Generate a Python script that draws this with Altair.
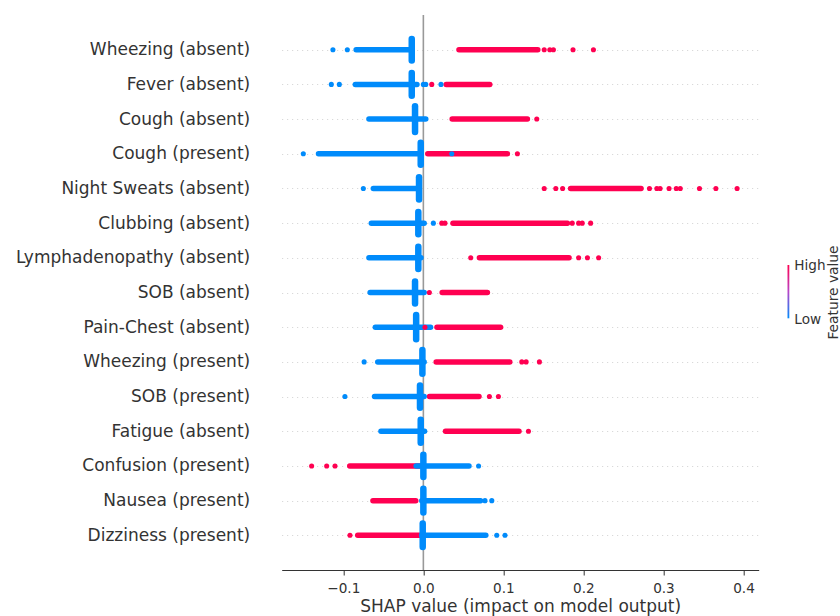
import altair as alt
import pandas as pd

# ---------------- data ----------------
features = [
    "Wheezing (absent)", "Fever (absent)", "Cough (absent)", "Cough (present)",
    "Night Sweats (absent)", "Clubbing (absent)", "Lymphadenopathy (absent)",
    "SOB (absent)", "Pain-Chest (absent)", "Wheezing (present)", "SOB (present)",
    "Fatigue (absent)", "Confusion (present)", "Nausea (present)", "Dizziness (present)",
]

# dense run of low-feature-value (blue) SHAP values per feature
blue_lo = [-0.084, -0.085, -0.068, -0.131, -0.0625, -0.065, -0.068, -0.0665, -0.060, -0.057, -0.061, -0.053, -0.009, -0.002, -0.002]
blue_hi = [-0.0145, -0.008, 0.003, -0.003, -0.0054, 0.001, -0.003, 0.001, 0.009, 0.001, 0.001, 0.0015, 0.057, 0.0715, 0.078]
# dense run of high-feature-value (red) SHAP values per feature
red_lo = [0.0445, 0.0285, 0.036, 0.0055, 0.184, 0.037, 0.070, 0.0235, 0.017, 0.016, 0.0077, 0.0277, -0.092, -0.063, -0.082]
red_hi = [0.143, 0.083, 0.130, 0.105, 0.272, 0.180, 0.182, 0.080, 0.0965, 0.108, 0.0695, 0.1195, -0.005, -0.0095, -0.005]

# pile-up of points (vertical swarm) per feature: location and half height (rows)
pile_x = [-0.0145, -0.0145, -0.0104, -0.0033, -0.0054, -0.0063, -0.0063, -0.0104, -0.009, -0.0012, -0.0042, -0.0033, 0.0, 0.0, -0.0008]
pile_half = [0.31, 0.33, 0.37, 0.32, 0.32, 0.32, 0.32, 0.32, 0.35, 0.34, 0.32, 0.33, 0.32, 0.34, 0.34]

# isolated points
blue_dot_row = [0, 0, 1, 1, 1, 1, 1, 3, 3, 4, 5, 9, 10, 12, 13, 13, 14, 14]
blue_dot_x = [-0.113, -0.095, -0.115, -0.105, 0.0, 0.003, 0.022, -0.150, 0.0355, -0.075, 0.0125, -0.074, -0.098, 0.069, 0.077, 0.0855, 0.0917, 0.102]
red_dot_row = [0, 0, 0, 0, 0, 1, 2, 3,
               4, 4, 4, 4, 4, 4, 4, 4, 4, 4, 4, 4,
               5, 5, 5, 5, 5, 5, 6, 6, 6, 6, 7, 8,
               9, 9, 9, 10, 10, 11, 12, 12, 12, 14]
red_dot_x = [0.151, 0.158, 0.1625, 0.187, 0.2125, 0.0105, 0.1417, 0.1175,
             0.151, 0.1655, 0.174, 0.2825, 0.2917, 0.2958, 0.307, 0.316, 0.321, 0.345, 0.3655, 0.392,
             0.023, 0.027, 0.186, 0.194, 0.1985, 0.209, 0.0592, 0.194, 0.205, 0.219, 0.0075, 0.002,
             0.123, 0.1284, 0.145, 0.0825, 0.0938, 0.1313, -0.1396, -0.1208, -0.1104, -0.0917]

x_ticks = [-0.1, 0.0, 0.1, 0.2, 0.3, 0.4]
x_domain = [-0.177, 0.419]
zero_line = [0.0]
x_title = "SHAP value (impact on model output)"
legend_title = "Feature value"
legend_low, legend_high = "Low", "High"

BLUE, MID, RED = "#008bfb", "#b845c8", "#ff0051"
FONT = "DejaVu Sans"
TXT = "#333333"

# ---------------- tables ----------------
n = len(features)
seg_df = pd.DataFrame({
    "row": list(range(n)) + list(range(n)),
    "x": red_lo + blue_lo,
    "x2": red_hi + blue_hi,
    "fv": [1.0] * n + [0.0] * n,
})
pile_df = pd.DataFrame({
    "row": list(range(n)),
    "x": pile_x,
    "y": [r - h for r, h in zip(range(n), pile_half)],
    "y2": [r + h for r, h in zip(range(n), pile_half)],
    "fv": [0.0] * n,
})
dot_df = pd.DataFrame({
    "row": red_dot_row + blue_dot_row,
    "x": red_dot_x + blue_dot_x,
    "fv": [1.0] * len(red_dot_x) + [0.0] * len(blue_dot_x),
})

label_expr = "[" + ",".join("'" + f + "'" for f in features) + "][datum.value]"

x_enc = alt.X(
    "x:Q",
    scale=alt.Scale(domain=x_domain, nice=False, zero=False),
    axis=alt.Axis(values=x_ticks, format=".1f", title=x_title),
)
y_scale = alt.Scale(domain=[-1, n], reverse=True, nice=False, zero=False)
y_axis = alt.Axis(values=list(range(n)), labelExpr=label_expr)
color_enc = alt.Color(
    "fv:Q",
    scale=alt.Scale(domain=[0, 1], range=[BLUE, RED], interpolate="lab"),
    legend=None,
)

zero = alt.Chart(pd.DataFrame({"x": zero_line})).mark_rule(
    color="#999999", strokeWidth=1.6
).encode(x=x_enc)

segs = alt.Chart(seg_df).mark_rule(strokeWidth=5.5, strokeCap="round").encode(
    x=x_enc, x2="x2:Q",
    y=alt.Y("row:Q", scale=y_scale, axis=y_axis, title=None),
    color=color_enc,
)

piles = alt.Chart(pile_df).mark_rule(strokeWidth=6.5, strokeCap="round").encode(
    x=x_enc,
    y=alt.Y("y:Q", scale=y_scale, axis=y_axis, title=None), y2="y2:Q",
    color=color_enc,
)

dots = alt.Chart(dot_df).mark_circle(size=26, opacity=1, strokeWidth=0).encode(
    x=x_enc,
    y=alt.Y("row:Q", scale=y_scale, axis=y_axis, title=None),
    color=color_enc,
)

# ---- colour bar (feature value legend) ----
cbar = alt.Chart(pd.DataFrame({"t": [legend_title]})).mark_rect(
    fill=alt.Gradient(
        gradient="linear",
        stops=[alt.GradientStop(color=BLUE, offset=0),
               alt.GradientStop(color=MID, offset=0.5),
               alt.GradientStop(color=RED, offset=1)],
        x1=0, x2=0, y1=1, y2=0,
    )
).encode(x=alt.value(505.8), x2=alt.value(507.6), y=alt.value(250), y2=alt.value(303.3))

txt_kw = dict(fontSize=13.6, font=FONT, color=TXT, align="left", baseline="middle")
hi_txt = alt.Chart(pd.DataFrame({"t": [legend_high]})).mark_text(**txt_kw).encode(
    text="t:N", x=alt.value(512.6), y=alt.value(250.7))
lo_txt = alt.Chart(pd.DataFrame({"t": [legend_low]})).mark_text(**txt_kw).encode(
    text="t:N", x=alt.value(512.6), y=alt.value(305))
ltitle = alt.Chart(pd.DataFrame({"t": [legend_title]})).mark_text(
    angle=270, fontSize=13.8, font=FONT, color=TXT, align="center", baseline="middle"
).encode(text="t:N", x=alt.value(552.3), y=alt.value(277.5))

chart = alt.layer(zero, segs, piles, dots, cbar, hi_txt, lo_txt, ltitle).properties(
    width=477, height=555,
    autosize=alt.AutoSizeParams(type="none"),
    padding={"left": 281.7, "top": 15, "right": 81.3, "bottom": 46},
).configure_view(stroke=None).configure_axisX(
    domainColor=TXT, domainWidth=1, tickColor=TXT, tickSize=5, tickWidth=1,
    labelFont=FONT, labelFontSize=13.6, labelColor=TXT, labelPadding=6,
    titleFont=FONT, titleFontSize=17, titleColor=TXT, titleFontWeight="normal",
    titlePadding=4, grid=False,
).configure_axisY(
    domain=False, ticks=False, tickSize=0, labelFont=FONT, labelFontSize=17,
    labelColor=TXT, labelPadding=32, labelLimit=0, grid=True, gridColor="#d0d0d0",
    gridDash=[1, 4], gridWidth=1,
)

chart.save("out.html", embed_options={"renderer": "svg", "actions": False})
